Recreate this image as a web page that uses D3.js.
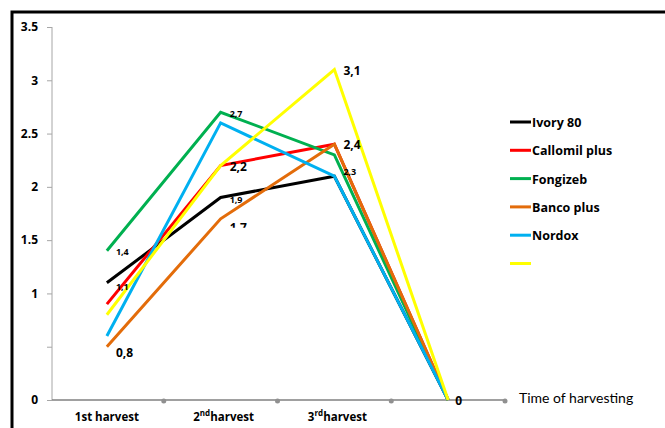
<!DOCTYPE html>
<html>
<head>
<meta charset="utf-8">
<script src="https://cdn.jsdelivr.net/npm/d3@7"></script>
<style>
  body { margin: 0; background: #fff; }
  svg { font-family: "Open Sans", sans-serif; }
</style>
</head>
<body>
<div class="chart"></div>
<script>
// categories (4th is the empty end point)
const harvests = ["1st", "2nd", "3rd", ""];
const yTicks = [0, 0.5, 1, 1.5, 2, 2.5, 3, 3.5];
const yTickLabels = ["0", "", "1", "1.5", "2", "2.5", "3", "3.5"];

const seriesNames = ["Ivory 80", "Callomil plus", "Fongizeb", "Banco plus", "Nordox", ""];
const seriesColors = ["#000000", "#ff0000", "#00b050", "#e36c0a", "#00b0f0", "#ffff00"];
const ivory = [1.1, 1.9, 2.1, 0];
const callomil = [0.9, 2.2, 2.4, 0];
const fongizeb = [1.4, 2.7, 2.3, 0];
const banco = [0.5, 1.7, 2.4, 0];
const nordox = [0.6, 2.6, 2.1, 0];
const yellow = [0.8, 2.2, 3.1, 0];
const seriesValues = [ivory, callomil, fongizeb, banco, nordox, yellow];

// data labels as printed on the picture
const labelCats = [0, 0, 0, 1, 1, 1, 1, 2, 2, 2, 3];
const labelVals = [1.4, 1.1, 0.5, 2.7, 2.2, 1.9, 1.7, 3.1, 2.4, 2.1, 0];
const labelTexts = ["1,4", "1,1", "0,8", "2,7", "2,2", "1,9", "1,7", "3,1", "2,4", "2,3", "0"];
const labelBig = [false, false, true, false, true, false, true, true, true, false, true];

const width = 665, height = 428;
const margin = {top: 27, right: 160, bottom: 28, left: 52};

const svg = d3.select(".chart").append("svg")
    .attr("width", width)
    .attr("height", height);

// outer frame
svg.append("rect")
    .attr("x", 12).attr("y", 12)
    .attr("width", width + 20).attr("height", height + 20)
    .attr("fill", "none")
    .attr("stroke", "#000")
    .attr("stroke-width", 3);

const xBand = d3.scaleBand()
    .domain(d3.range(harvests.length))
    .range([margin.left - 2, 505])
    .padding(0);
const xPos = i => xBand(i) + xBand.bandwidth() / 2;

const y = d3.scaleLinear()
    .domain([0, 3.5])
    .range([height - margin.bottom, margin.top]);

const g = svg.append("g");

// y axis
const yAxis = g.append("g")
    .attr("transform", "translate(" + margin.left + ",0)")
    .call(d3.axisLeft(y).tickValues(yTicks).tickFormat((d, i) => yTickLabels[i]).tickSize(5).tickPadding(9));
yAxis.select(".domain").attr("stroke", "#a6a6a6").attr("d", "M0," + y(0) + "V" + y(3.5));
yAxis.selectAll(".tick line").attr("stroke", "#a6a6a6");
yAxis.selectAll(".tick text")
    .attr("font-size", 12).attr("font-weight", "bold").attr("fill", "#000")
    .style("font-family", "'Open Sans', sans-serif");

// x axis line
g.append("line")
    .attr("x1", margin.left).attr("x2", 505)
    .attr("y1", y(0)).attr("y2", y(0))
    .attr("stroke", "#808080").attr("stroke-width", 1.5);

// gray dots at category boundaries
g.selectAll(".bound")
    .data(d3.range(1, harvests.length + 1))
    .enter().append("circle")
    .attr("cx", i => xBand(i - 1) + xBand.bandwidth())
    .attr("cy", y(0) + 1)
    .attr("r", 2.5)
    .attr("fill", "#909090");

// category labels
const catText = g.selectAll(".cat")
    .data(harvests.filter(d => d !== ""))
    .enter().append("text")
    .attr("x", (d, i) => xPos(i) + (i === 0 ? 0 : 3))
    .attr("y", y(0) + 21)
    .attr("text-anchor", "middle")
    .attr("font-size", 11.5)
    .attr("font-weight", "bold");
catText.each(function(d, i) {
    const t = d3.select(this);
    if (i === 0) {
        t.text("1st harvest");
    } else {
        t.append("tspan").text(d.slice(0, 1));
        t.append("tspan").attr("font-size", 8).attr("dy", -5).text(d.slice(1));
        t.append("tspan").attr("dy", 5).text("harvest");
    }
});

g.append("text")
    .attr("x", 519).attr("y", y(0) + 3)
    .attr("font-size", 14)
    .attr("fill", "#000")
    .style("font-family", "Lato, sans-serif")
    .text("Time of harvesting");

// lines
const line = d3.line()
    .x((d, i) => xPos(i))
    .y(d => y(d));

g.selectAll(".series")
    .data(seriesValues)
    .enter().append("path")
    .attr("fill", "none")
    .attr("stroke", (d, i) => seriesColors[i])
    .attr("stroke-width", 3)
    .attr("d", line);

// clip for the half-hidden "1,7" label
svg.append("clipPath").attr("id", "cut")
    .append("rect").attr("x", 0).attr("y", 0).attr("width", width).attr("height", y(1.7) + 9);

g.selectAll(".dl")
    .data(labelTexts)
    .enter().append("text")
    .attr("x", (d, i) => xPos(labelCats[i]) + (labelCats[i] === 3 ? 7 : 9))
    .attr("y", (d, i) => {
        if (d === "0,8") return y(labelVals[i]) + 10;
        if (d === "1,7") return y(labelVals[i]) + 13;
        if (d === "2,3") return y(labelVals[i]) - 1;
        if (d === "0") return y(0) + 5;
        if (d === "1,1") return y(labelVals[i]) + 7;
        if (d === "1,4") return y(labelVals[i]) + 4;
        return y(labelVals[i]) + 5;
    })
    .attr("font-size", (d, i) => labelBig[i] ? 12 : 9)
    .attr("font-weight", "bold")
    .attr("clip-path", d => d === "1,7" ? "url(#cut)" : null)
    .text(d => d);

// legend
const legend = g.selectAll(".leg")
    .data(seriesNames)
    .enter().append("g")
    .attr("transform", (d, i) => "translate(510," + (122 + i * 28.3) + ")");
legend.append("line")
    .attr("x1", 0).attr("x2", 21)
    .attr("stroke", (d, i) => seriesColors[i])
    .attr("stroke-width", 3);
legend.append("text")
    .attr("x", 22).attr("y", 5)
    .attr("font-size", 12.5)
    .attr("font-weight", "bold")
    .text(d => d);
</script>
</body>
</html>
